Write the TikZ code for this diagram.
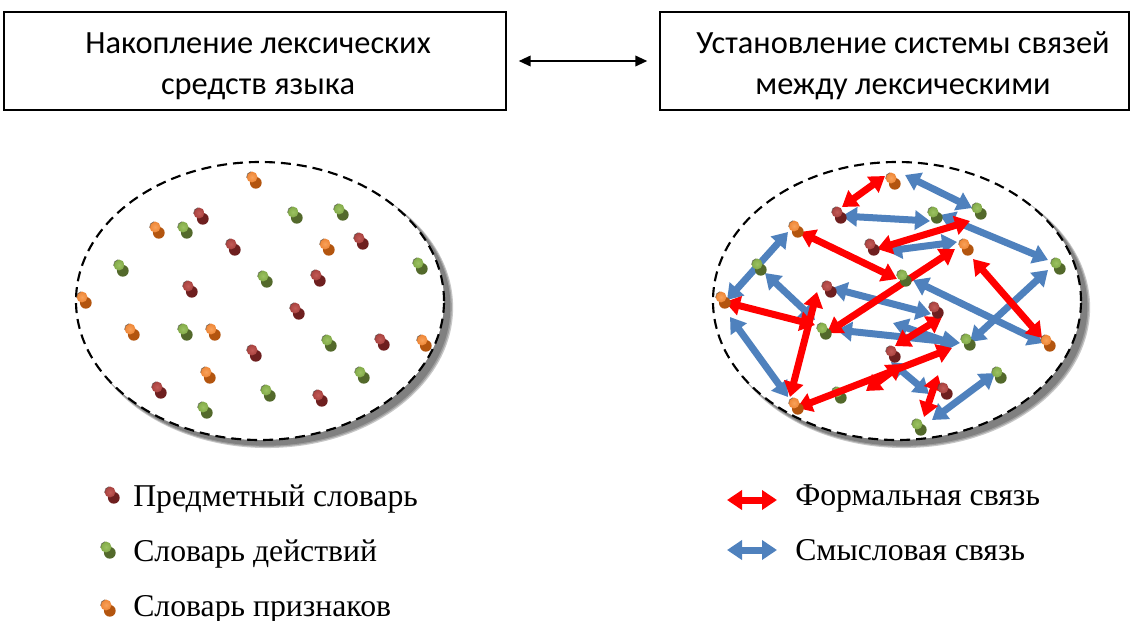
\documentclass[tikz,border=0pt]{standalone}
\usepackage{fontspec}
\setmainfont{Liberation Serif}
\newfontfamily\boxfont{Carlito}
\usetikzlibrary{arrows.meta}

% pin colours: lit top, darker body
\definecolor{redlit}{HTML}{A8423F}
\definecolor{redhi}{HTML}{C25A56}
\definecolor{reddark}{HTML}{6E1F1F}
\definecolor{greenlit}{HTML}{82AA48}
\definecolor{greenhi}{HTML}{9CC162}
\definecolor{greendark}{HTML}{53692B}
\definecolor{orangelit}{HTML}{EE8636}
\definecolor{orangehi}{HTML}{F8A15A}
\definecolor{orangedark}{HTML}{B3550F}
\definecolor{formalred}{HTML}{FF0000}
\definecolor{semblue}{HTML}{4F81BD}

% a push pin: darker body below-right, shaded head on top
\newcommand\pinmark[3]{%
  \begin{scope}[shift={(#1,#2)}]
    \fill[#3dark] (3.8,5.8) circle[radius=4.4pt];
    \shade[inner color=#3hi, outer color=#3lit] (0,0) circle[radius=4.1pt];
    \draw[black!75, line width=0.5pt, opacity=0.6] (100:4.1pt) arc[start angle=100, end angle=190, radius=4.1pt];
  \end{scope}}

% soft drop shadow behind a field ellipse centred at (#1,#2)
\newcommand\fieldshadow[2]{%
  \begin{scope}[shift={(#1,#2)}]
    \fill[black!22] (7,6.5) ellipse[x radius=139.6pt, y radius=105.4pt];
    \fill[black!38] (6.5,6) ellipse[x radius=139pt, y radius=104.9pt];
    \fill[black!50] (6,5.5) ellipse[x radius=138.3pt, y radius=104.4pt];
  \end{scope}}

\tikzset{
  stagebox/.style={draw=black, line width=1.1pt, minimum height=73.5pt, inner sep=0pt},
  stagetext/.style={align=center, inner sep=0pt,
    font=\boxfont\fontsize{24.3}{30.5}\selectfont},
  pairarrow/.style={line width=1.3pt, {Triangle[length=9pt,width=8pt]}-{Triangle[length=9pt,width=8pt]}},
  link/.style={line width=5.25pt,
    {Triangle[length=11.25pt,width=14.25pt]}-{Triangle[length=11.25pt,width=14.25pt]}},
  formal/.style={link, draw=formalred},
  semantic/.style={link, draw=semblue},
  field/.style={draw=black, line width=1.6pt, dash pattern=on 7.5pt off 4.5pt, fill=white},
  legendtext/.style={anchor=base west, inner sep=0pt, font=\fontsize{23.8}{28}\selectfont},
}

\begin{document}
\begin{tikzpicture}[x=0.75pt,y=-0.75pt]
\useasboundingbox (0,0) rectangle (1139,621);

% ---- stage boxes ----
\node[stagebox, minimum width=376.5pt] (accum) at (255,61) {};
\node[stagetext] (accumtext) at (258,66) {Накопление лексических\\средств языка};
\node[stagebox, minimum width=351.75pt] (system) at (894.5,61) {};
\node[stagetext] (systemtext) at (903,66) {Установление системы связей\\между лексическими};
\draw[pairarrow, shorten <=9pt, shorten >=9pt] (accum) -- (system);

% ---- field of unconnected words ----
\fieldshadow{260}{301}
\draw[field] (260,301) ellipse[x radius=138pt, y radius=104.25pt];

\foreach \x/\y in {199/213,231/244,359/238,316/275,188/286,295/308,252/350,380/339,157/387,318/395}
  {\pinmark{\x}{\y}{red}}
\foreach \x/\y in {293/212,339/209,183/227,119/265,263/276,418/263,183/329,327/340,360/372,266/390,203/407}
  {\pinmark{\x}{\y}{green}}
\foreach \x/\y in {252/177,155/227,325/244,82/297,130/329,211/329,422/340,206/372}
  {\pinmark{\x}{\y}{orange}}

% ---- field with links ----
\fieldshadow{897}{301}
\draw[field] (897,301) ellipse[x radius=138pt, y radius=104.25pt];

\pinmark{837}{392}{green}

\foreach \n/\a/\b in {
  s1/{905,175}/{972,208}, s2/{842,216}/{930,221}, s3/{940,215}/{1048,260},
  s4/{887,251}/{957,242}, s5/{788,232}/{727,300}, s6/{765,273}/{815,320},
  s7/{832,288}/{931,314}, s8/{837,330}/{960,343}, s9/{893,323}/{956,345},
  s10/{913,280}/{1043,343}, s11/{1048,270}/{970,342}, s12/{730,317}/{788,397},
  s13/{891,362}/{929,394}, s14/{995,373}/{932,420}}
  {\coordinate (\n a) at (\a); \coordinate (\n b) at (\b);
   \draw[semantic] (\n a) -- (\n b);}

\foreach \n/\a/\b in {
  f1/{842,207}/{885,176}, f2/{800,232}/{897,279}, f3/{877,249}/{970,221},
  f4/{955,249}/{827,333}, f5/{973,259}/{1042,338}, f6/{725,302}/{815,325},
  f7/{817,292}/{790,397}, f8/{797,408}/{952,348}, f9/{895,346}/{942,317},
  f10/{866,391}/{902,364}, f11/{938,375}/{924,417}}
  {\coordinate (\n a) at (\a); \coordinate (\n b) at (\b);
   \draw[formal] (\n a) -- (\n b);}

\foreach \x/\y in {837/212,870/244,827/286,934/307,891/351,943/388}
  {\pinmark{\x}{\y}{red}}
\foreach \x/\y in {933/212,977/208,757/264,902/275,1056/263,822/328,966/339,997/372,917/424}
  {\pinmark{\x}{\y}{green}}
\foreach \x/\y in {891/178,794/226,964/244,721/297,1046/340,794/403}
  {\pinmark{\x}{\y}{orange}}

% ---- legend: word kinds ----
\pinmark{110}{492}{red}
\pinmark{106}{547}{green}
\pinmark{106}{605}{orange}
\node[legendtext] (kindsubj) at (133,506.7) {Предметный словарь};
\node[legendtext] (kindact) at (133,561.5) {Словарь действий};
\node[legendtext] (kindattr) at (133,616) {Словарь признаков};

% ---- legend: link kinds ----
\coordinate (kfa) at (727,500); \coordinate (kfb) at (777,500);
\coordinate (ksa) at (727,550); \coordinate (ksb) at (777,550);
\draw[formal] (kfa) -- (kfb);
\draw[semantic] (ksa) -- (ksb);
\node[legendtext] (linkform) at (795,505) {Формальная связь};
\node[legendtext] (linksense) at (795,560) {Смысловая связь};
\end{tikzpicture}
\end{document}
